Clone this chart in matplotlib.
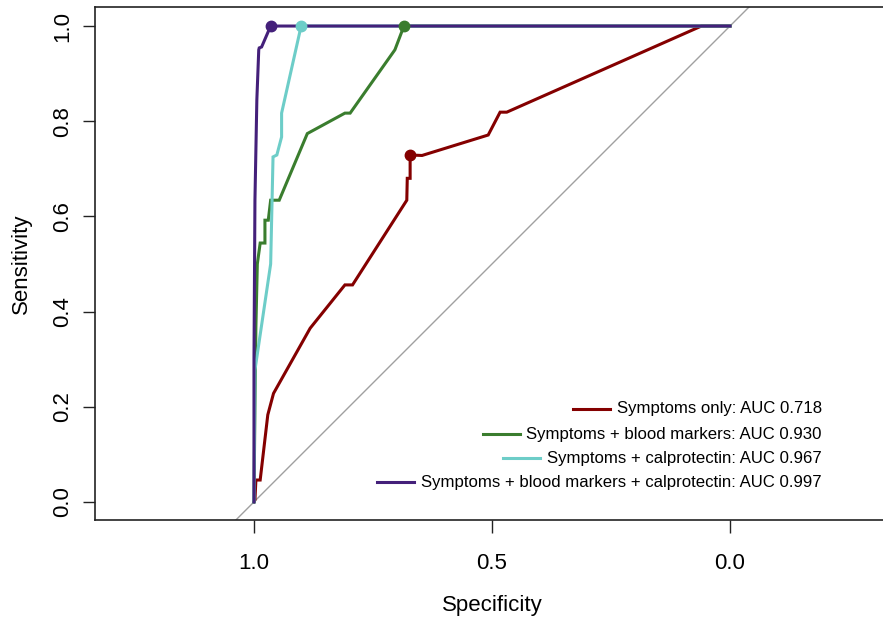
import matplotlib
matplotlib.use('Agg')
import matplotlib.pyplot as plt
import numpy as np

plt.rcParams['font.family'] = ['Liberation Sans', 'DejaVu Sans']

# ROC curves (specificity, sensitivity)
spec_sym = [1.0, 0.998, 0.996, 0.987, 0.971, 0.959, 0.882, 0.809, 0.793, 0.679, 0.678, 0.672, 0.672,
            0.647, 0.508, 0.483, 0.469, 0.06, 0.0]
sens_sym = [0.0, 0.004, 0.046, 0.046, 0.183, 0.228, 0.365, 0.456, 0.456, 0.634, 0.68, 0.68, 0.729,
            0.728, 0.771, 0.819, 0.819, 1.0, 1.0]

spec_blood = [1.0, 0.998, 0.996, 0.993, 0.987, 0.977, 0.977, 0.97, 0.965, 0.947, 0.888, 0.809, 0.798,
              0.704, 0.685, 0.0]
sens_blood = [0.0, 0.2, 0.368, 0.50, 0.544, 0.544, 0.592, 0.592, 0.634, 0.634, 0.774, 0.817, 0.817,
              0.95, 1.0, 1.0]

spec_calpro = [1.0, 0.998, 0.965, 0.96, 0.952, 0.942, 0.942, 0.901, 0.0]
sens_calpro = [0.0, 0.277, 0.50, 0.725, 0.729, 0.767, 0.817, 1.0, 1.0]

spec_all = [1.0, 1.0, 0.998, 0.994, 0.99, 0.989, 0.984, 0.965, 0.0]
sens_all = [0.0, 0.3, 0.634, 0.845, 0.95, 0.954, 0.956, 1.0, 1.0]

# best-threshold points marked on each curve
best_spec = [0.672, 0.685, 0.901, 0.965]
best_sens = [0.729, 1.0, 1.0, 1.0]

labels = ['Symptoms only: AUC 0.718',
          'Symptoms + blood markers: AUC 0.930',
          'Symptoms + calprotectin: AUC 0.967',
          'Symptoms + blood markers + calprotectin: AUC 0.997']
colors = ['#840000', '#3a7d2e', '#6dcdc8', '#44207a']

W, H = 883, 620
fig = plt.figure(figsize=(W / 100, H / 100), dpi=100)
# the plot box runs a few pixels past the right edge of the image, as in the reference
ax = fig.add_axes([95 / W, (H - 520) / H, 794 / W, 513 / H])

ax.axline((1, 0), (0, 1), color='#a0a0a0', lw=1.0, zorder=1)

curves = [(spec_sym, sens_sym), (spec_blood, sens_blood), (spec_calpro, sens_calpro), (spec_all, sens_all)]
for (sx, sy), c in zip(curves, colors):
    ax.plot(sx, sy, color=c, lw=2.2, solid_joinstyle='miter', zorder=2)
for x, y, c in zip(best_spec, best_sens, colors):
    ax.plot(x, y, 'o', color=c, ms=7.5, zorder=3)

ax.set_xlim(1.334, -0.334)
ax.set_ylim(-0.038, 1.040)
ax.set_xticks([1.0, 0.5, 0.0])
ax.set_xticklabels(['1.0', '0.5', '0.0'])
ax.set_yticks([0.0, 0.2, 0.4, 0.6, 0.8, 1.0])
ax.set_yticklabels(['0.0', '0.2', '0.4', '0.6', '0.8', '1.0'], rotation=90, va='center')
ax.tick_params(axis='both', length=9, width=1.0, labelsize=16, color='#222222')
ax.tick_params(axis='x', pad=15)
ax.tick_params(axis='y', pad=7)
for s in ax.spines.values():
    s.set_linewidth(1.2)
    s.set_color('#222222')

ax.set_xlabel('Specificity', fontsize=16, labelpad=15)
ax.set_ylabel('Sensitivity', fontsize=16, labelpad=14)

# R-style legend: right-justified text, line placed just left of each entry
fig.canvas.draw()
rows_y = [409, 434, 458, 482]
texts = []
for lab, yy in zip(labels, rows_y):
    t = fig.text(822 / W, (H - yy) / H, lab, ha='right', va='center', fontsize=12.1)
    texts.append(t)
fig.canvas.draw()
r = fig.canvas.get_renderer()
for t, c, yy in zip(texts, colors, rows_y):
    bb = t.get_window_extent(r)
    x1 = bb.x0 - 7
    x0 = x1 - 37
    fig.add_artist(plt.Line2D([x0 / W, x1 / W], [(H - yy) / H] * 2, color=c, lw=2.2,
                              transform=fig.transFigure))

fig.savefig('out.png', dpi=100)
